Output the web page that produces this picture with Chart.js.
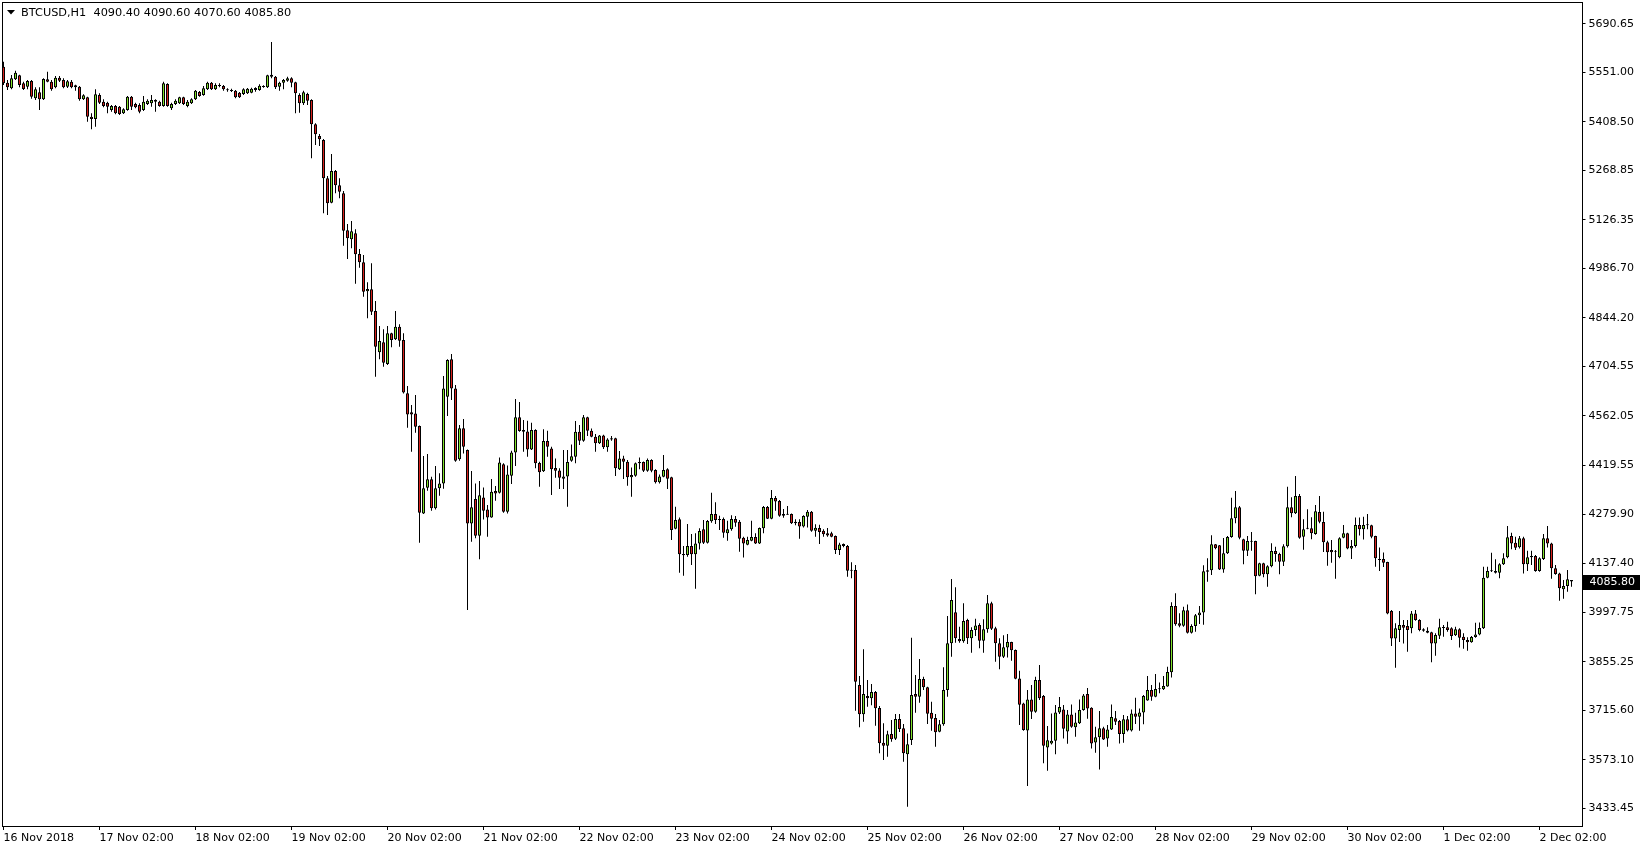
<!DOCTYPE html>
<html>
<head>
<meta charset="utf-8">
<title>BTCUSD,H1</title>
<script src="https://cdn.jsdelivr.net/npm/chart.js@4.4.0/dist/chart.umd.min.js"></script>
<style>
  html, body { margin: 0; padding: 0; background: #fff; }
  #wrap { width: 1642px; height: 850px; }
</style>
</head>
<body>
<div id="wrap"><canvas id="chart" width="1642" height="850"></canvas></div>
<script>
// BTCUSD H1 bars, 16 Nov 2018 02:00 .. 2 Dec 2018 10:00
const symbol = 'BTCUSD,H1';

const open = [
  5567.0, 5521.0, 5504.7, 5530.6, 5542.1, 5519.0, 5509.5, 5525.8, 5475.9, 5493.2,
  5473.0, 5530.6, 5523.8, 5507.5, 5535.4, 5528.6, 5509.5, 5523.8, 5507.5, 5509.5,
  5473.0, 5478.8, 5423.2, 5416.5, 5485.5, 5466.3, 5463.4, 5442.3, 5453.8, 5451.9,
  5432.7, 5442.3, 5480.7, 5459.6, 5456.7, 5442.3, 5459.6, 5461.5, 5471.1, 5466.3,
  5453.8, 5517.1, 5447.1, 5459.6, 5461.5, 5478.8, 5453.8, 5461.5, 5473.0, 5494.1,
  5485.5, 5501.8, 5521.0, 5501.8, 5513.3, 5511.4, 5501.8, 5499.9, 5498.0, 5492.2,
  5488.4, 5490.3, 5492.2, 5505.6, 5499.9, 5508.5, 5507.5, 5544.0, 5538.2, 5509.5,
  5521.0, 5526.7, 5533.4, 5521.9, 5485.5, 5461.5, 5488.4, 5471.1, 5401.1, 5367.5,
  5356.0, 5245.7, 5175.7, 5266.8, 5225.6, 5202.6, 5096.1, 5070.2, 5087.5, 5028.0,
  5004.1, 4920.6, 4926.4, 4864.0, 4745.1, 4773.9, 4711.6, 4799.8, 4782.5, 4819.0,
  4780.6, 4627.2, 4572.5, 4569.6, 4533.2, 4281.9, 4355.8, 4379.8, 4296.3, 4353.9,
  4368.2, 4617.6, 4725.0, 4641.5, 4437.3, 4526.5, 4464.1, 4253.1, 4323.1, 4217.6,
  4327.9, 4293.4, 4270.4, 4346.1, 4341.4, 4422.9, 4286.7, 4390.3, 4457.4, 4558.1,
  4521.7, 4517.8, 4466.0, 4521.7, 4426.7, 4402.8, 4490.0, 4468.9, 4412.3, 4405.6,
  4381.6, 4388.3, 4433.4, 4444.9, 4516.9, 4491.0, 4558.1, 4519.7, 4502.5, 4483.3,
  4506.3, 4471.8, 4497.7, 4497.7, 4408.5, 4440.1, 4430.5, 4385.5, 4390.3, 4425.8,
  4429.6, 4404.7, 4435.3, 4406.6, 4371.1, 4387.4, 4408.5, 4385.5, 4237.8, 4264.7,
  4165.0, 4162.1, 4188.0, 4164.0, 4195.6, 4235.9, 4197.5, 4258.9, 4280.0, 4265.6,
  4265.6, 4224.4, 4235.9, 4265.6, 4258.0, 4211.9, 4191.8, 4203.3, 4213.8, 4195.6,
  4238.8, 4300.1, 4266.6, 4326.0, 4317.4, 4280.0, 4280.0, 4280.0, 4258.0, 4257.0,
  4244.5, 4272.3, 4286.7, 4232.0, 4239.7, 4232.0, 4224.4, 4224.4, 4216.7, 4176.4,
  4193.7, 4188.0, 4118.9, 4118.9, 3788.1, 3703.7, 3756.4, 3749.7, 3767.9, 3721.9,
  3622.2, 3613.6, 3647.1, 3633.7, 3690.3, 3663.4, 3588.6, 3629.9, 3762.2, 3754.5,
  3805.4, 3781.4, 3708.5, 3693.2, 3653.8, 3674.9, 3773.7, 3908.0, 3997.2, 3920.4,
  3913.7, 3975.1, 3922.4, 3946.3, 3960.7, 3915.6, 3948.2, 4023.1, 3951.1, 3908.0,
  3869.6, 3896.4, 3911.8, 3888.7, 3807.2, 3735.3, 3657.6, 3746.8, 3711.3, 3802.4,
  3756.4, 3608.7, 3620.2, 3627.9, 3709.4, 3718.0, 3654.7, 3703.6, 3666.3, 3677.8,
  3716.1, 3762.2, 3722.8, 3623.1, 3637.5, 3663.4, 3634.6, 3660.5, 3692.2, 3684.5,
  3647.1, 3689.3, 3657.6, 3706.5, 3696.9, 3709.4, 3743.9, 3773.7, 3754.5, 3775.6,
  3775.6, 3784.2, 3824.5, 4015.3, 3965.5, 3958.8, 4002.9, 3938.6, 3957.8, 3988.5,
  3997.1, 4118.0, 4118.0, 4192.8, 4189.9, 4120.8, 4166.9, 4213.9, 4267.6, 4299.2,
  4207.2, 4174.6, 4202.4, 4202.4, 4102.6, 4138.1, 4106.5, 4129.5, 4173.6, 4165.0,
  4142.9, 4187.0, 4299.2, 4282.0, 4331.8, 4214.9, 4237.8, 4238.8, 4222.5, 4285.8,
  4257.0, 4198.5, 4176.5, 4174.5, 4155.4, 4211.9, 4224.4, 4181.2, 4188.0, 4248.4,
  4235.9, 4249.3, 4247.4, 4216.7, 4150.6, 4150.6, 4141.9, 4001.0, 3922.3, 3946.3,
  3960.7, 3957.8, 3951.1, 3994.2, 3975.1, 3948.2, 3944.4, 3939.6, 3907.9, 3930.0,
  3954.0, 3954.0, 3951.1, 3931.0, 3948.2, 3927.1, 3917.5, 3910.8, 3926.1, 3933.8,
  3951.1, 4096.9, 4115.1, 4116.0, 4111.2, 4135.2, 4155.4, 4216.7, 4197.6, 4184.1,
  4210.0, 4135.2, 4155.4, 4159.2, 4116.0, 4150.6, 4210.0, 4195.6, 4123.7, 4109.3,
  4063.3, 4072.9, 4090.4
];

const high = [
  5581.4, 5528.6, 5543.0, 5555.5, 5544.0, 5523.8, 5528.6, 5528.6, 5507.5, 5507.5,
  5533.4, 5552.6, 5528.6, 5540.1, 5540.1, 5533.4, 5528.6, 5528.6, 5515.2, 5511.4,
  5487.4, 5480.7, 5432.7, 5501.8, 5490.3, 5473.0, 5466.3, 5456.7, 5456.7, 5453.8,
  5447.1, 5482.6, 5482.6, 5463.4, 5461.5, 5482.6, 5473.0, 5485.5, 5473.0, 5469.2,
  5523.8, 5519.0, 5463.4, 5473.0, 5480.7, 5480.7, 5471.1, 5475.9, 5499.9, 5497.0,
  5511.4, 5523.8, 5522.9, 5519.0, 5519.0, 5514.3, 5504.7, 5503.7, 5499.9, 5494.1,
  5504.7, 5505.6, 5506.6, 5507.5, 5516.2, 5513.3, 5544.0, 5638.0, 5540.1, 5523.8,
  5531.5, 5538.2, 5536.3, 5523.8, 5490.3, 5497.9, 5492.2, 5473.0, 5404.0, 5373.3,
  5358.9, 5252.4, 5315.7, 5269.7, 5245.7, 5209.3, 5114.4, 5123.0, 5099.0, 5042.4,
  5025.2, 4946.5, 5001.2, 4892.8, 4820.9, 4811.3, 4820.9, 4801.7, 4864.0, 4825.7,
  4799.8, 4648.3, 4593.6, 4622.4, 4535.0, 4446.9, 4452.6, 4387.4, 4418.1, 4397.0,
  4677.0, 4725.0, 4740.3, 4651.1, 4536.1, 4553.3, 4466.0, 4403.7, 4368.2, 4374.9,
  4356.7, 4305.9, 4380.7, 4360.5, 4443.0, 4425.8, 4420.0, 4462.2, 4610.8, 4602.2,
  4550.4, 4548.5, 4542.7, 4523.6, 4430.5, 4523.6, 4519.7, 4473.7, 4440.1, 4411.4,
  4464.1, 4464.1, 4480.4, 4547.5, 4536.0, 4564.8, 4560.0, 4526.4, 4510.1, 4507.3,
  4508.2, 4497.7, 4504.4, 4499.6, 4461.2, 4447.8, 4435.3, 4414.2, 4428.6, 4443.0,
  4431.5, 4440.1, 4437.3, 4408.5, 4394.1, 4449.7, 4411.4, 4387.4, 4301.1, 4270.4,
  4188.0, 4251.2, 4222.5, 4224.4, 4238.8, 4262.7, 4262.7, 4341.4, 4313.6, 4275.2,
  4270.4, 4260.8, 4276.2, 4274.3, 4262.7, 4214.8, 4214.8, 4260.8, 4224.4, 4241.6,
  4303.0, 4303.0, 4349.0, 4331.8, 4320.3, 4294.4, 4303.0, 4281.9, 4264.7, 4264.7,
  4276.2, 4291.5, 4288.6, 4250.3, 4249.3, 4235.9, 4239.7, 4229.2, 4218.6, 4197.5,
  4195.6, 4190.9, 4141.0, 4133.3, 3814.0, 3890.7, 3802.5, 3791.0, 3770.8, 3727.7,
  3677.8, 3656.7, 3687.4, 3704.7, 3704.7, 3675.9, 3649.0, 3924.3, 3816.9, 3862.9,
  3812.1, 3783.3, 3740.1, 3704.7, 3687.4, 3838.9, 3986.6, 4093.0, 4069.1, 3955.9,
  4023.1, 3978.9, 3954.0, 3978.9, 3965.5, 3977.0, 4047.0, 4027.9, 3955.9, 3922.4,
  3931.0, 3934.8, 3912.7, 3890.6, 3829.3, 3737.2, 3773.7, 3788.0, 3812.0, 3845.6,
  3759.3, 3670.1, 3706.5, 3730.5, 3753.5, 3730.5, 3716.1, 3732.4, 3708.5, 3746.8,
  3762.2, 3779.4, 3723.8, 3668.2, 3713.2, 3668.2, 3673.0, 3732.4, 3713.2, 3687.4,
  3701.7, 3698.9, 3718.0, 3751.6, 3720.9, 3759.3, 3814.0, 3788.0, 3819.7, 3795.7,
  3814.0, 3840.8, 4025.9, 4051.8, 3994.3, 4013.4, 4020.1, 3962.6, 3992.3, 4015.4,
  4132.4, 4152.5, 4218.7, 4193.7, 4190.9, 4211.0, 4216.8, 4327.0, 4346.2, 4303.1,
  4209.1, 4216.8, 4228.3, 4203.3, 4140.0, 4140.0, 4132.4, 4195.7, 4186.1, 4168.8,
  4192.8, 4358.7, 4328.0, 4389.4, 4337.6, 4264.7, 4293.5, 4270.5, 4305.9, 4331.8,
  4286.8, 4203.3, 4205.2, 4176.5, 4212.9, 4248.4, 4226.3, 4205.2, 4270.4, 4270.4,
  4272.4, 4280.0, 4249.3, 4217.7, 4184.1, 4169.7, 4142.9, 4003.8, 3965.5, 4001.0,
  3975.1, 3975.1, 4001.0, 4003.8, 3977.0, 3951.1, 3954.0, 3941.5, 3936.7, 3978.9,
  3960.7, 3970.3, 3954.0, 3955.9, 3951.1, 3936.7, 3925.2, 3929.0, 3967.4, 3968.3,
  4128.5, 4128.5, 4168.8, 4149.6, 4138.1, 4166.9, 4245.5, 4226.3, 4214.8, 4216.7,
  4214.8, 4174.5, 4174.5, 4162.1, 4155.4, 4222.5, 4245.5, 4197.5, 4133.3, 4111.2,
  4090.1, 4118.9, 4090.6
];

const low = [
  5514.3, 5499.9, 5501.8, 5528.6, 5507.5, 5499.9, 5501.8, 5474.9, 5471.1, 5442.3,
  5471.1, 5521.9, 5498.0, 5504.7, 5522.9, 5504.7, 5505.6, 5504.7, 5498.0, 5469.2,
  5471.1, 5408.8, 5386.7, 5394.4, 5459.6, 5450.0, 5432.7, 5437.5, 5429.9, 5427.9,
  5430.8, 5440.4, 5442.3, 5447.1, 5432.7, 5439.4, 5456.7, 5451.9, 5437.5, 5451.9,
  5451.9, 5451.9, 5442.3, 5456.7, 5459.6, 5456.7, 5450.0, 5459.6, 5471.1, 5480.7,
  5483.6, 5499.9, 5499.9, 5499.9, 5507.5, 5498.0, 5495.1, 5494.1, 5475.9, 5476.9,
  5485.5, 5488.4, 5490.3, 5495.1, 5498.0, 5506.6, 5505.6, 5533.4, 5502.7, 5498.0,
  5502.0, 5523.8, 5507.5, 5432.7, 5434.6, 5456.7, 5456.7, 5303.3, 5341.6, 5338.8,
  5145.0, 5140.2, 5173.8, 5202.6, 5188.2, 5052.0, 5013.7, 5044.3, 4942.7, 4988.7,
  4905.3, 4843.0, 4852.5, 4675.1, 4725.0, 4703.9, 4708.7, 4759.5, 4780.6, 4761.4,
  4627.0, 4528.4, 4459.3, 4514.0, 4197.5, 4280.0, 4347.1, 4289.6, 4293.4, 4332.8,
  4352.9, 4562.0, 4608.0, 4430.6, 4433.4, 4454.5, 4003.8, 4200.4, 4210.0, 4149.6,
  4264.6, 4214.8, 4269.4, 4318.3, 4339.4, 4283.8, 4281.9, 4366.3, 4418.1, 4516.9,
  4459.3, 4444.9, 4464.1, 4411.4, 4358.6, 4400.8, 4444.9, 4334.6, 4384.5, 4351.9,
  4351.9, 4301.1, 4430.5, 4425.8, 4478.5, 4488.1, 4504.4, 4500.6, 4459.3, 4481.4,
  4467.0, 4459.3, 4491.0, 4389.3, 4406.6, 4380.7, 4361.5, 4329.9, 4387.4, 4408.5,
  4400.8, 4401.8, 4399.9, 4368.2, 4368.2, 4385.5, 4351.9, 4205.2, 4235.9, 4111.2,
  4102.6, 4157.3, 4133.3, 4065.2, 4178.3, 4193.7, 4195.6, 4255.1, 4251.2, 4234.0,
  4211.9, 4203.3, 4232.0, 4243.5, 4171.6, 4155.3, 4189.9, 4201.4, 4193.7, 4193.7,
  4224.4, 4265.6, 4264.7, 4289.6, 4272.3, 4269.4, 4278.1, 4251.2, 4247.4, 4209.0,
  4241.6, 4241.6, 4229.2, 4214.8, 4193.7, 4214.8, 4214.8, 4212.9, 4164.9, 4162.1,
  4184.1, 4099.8, 4095.0, 3714.3, 3666.3, 3682.6, 3725.8, 3729.6, 3671.1, 3591.5,
  3572.3, 3581.9, 3625.0, 3629.9, 3652.9, 3567.5, 3438.1, 3615.5, 3708.5, 3737.3,
  3773.7, 3675.9, 3656.7, 3610.7, 3651.9, 3671.1, 3754.5, 3869.6, 3909.9, 3909.9,
  3909.9, 3906.1, 3881.1, 3929.1, 3893.6, 3881.1, 3938.7, 3946.3, 3855.2, 3833.2,
  3865.8, 3867.6, 3858.1, 3804.4, 3673.0, 3656.7, 3497.5, 3690.2, 3708.5, 3744.9,
  3562.7, 3541.6, 3617.3, 3588.6, 3704.6, 3634.6, 3619.2, 3665.3, 3639.4, 3675.8,
  3714.2, 3691.2, 3605.8, 3593.4, 3545.4, 3629.8, 3610.6, 3658.6, 3673.0, 3620.2,
  3622.1, 3654.7, 3654.7, 3675.8, 3656.7, 3674.9, 3743.0, 3743.0, 3752.6, 3764.1,
  3773.7, 3783.3, 3810.1, 3958.8, 3954.0, 3955.9, 3936.6, 3936.6, 3941.5, 3963.6,
  3961.7, 4085.4, 4104.5, 4178.4, 4118.9, 4111.3, 4165.0, 4212.0, 4253.2, 4207.2,
  4135.2, 4159.2, 4174.6, 4048.9, 4100.7, 4097.8, 4071.0, 4126.6, 4142.9, 4106.5,
  4130.4, 4184.1, 4270.5, 4280.0, 4209.1, 4177.4, 4235.9, 4207.2, 4220.6, 4253.2,
  4170.7, 4131.4, 4140.0, 4094.0, 4152.5, 4210.0, 4178.4, 4150.6, 4184.1, 4218.6,
  4207.1, 4235.9, 4210.0, 4128.5, 4116.0, 4127.5, 3991.4, 3900.3, 3837.9, 3911.8,
  3907.9, 3884.0, 3936.7, 3973.1, 3942.5, 3941.5, 3936.7, 3853.3, 3872.5, 3920.4,
  3927.1, 3941.5, 3917.5, 3929.0, 3896.4, 3892.6, 3886.8, 3909.8, 3924.2, 3931.0,
  3949.2, 4095.0, 4113.2, 4109.3, 4095.0, 4133.3, 4152.5, 4178.4, 4176.5, 4181.2,
  4109.3, 4116.0, 4133.3, 4114.1, 4114.1, 4147.7, 4184.1, 4094.0, 4105.5, 4030.7,
  4036.4, 4056.6, 4070.6
];

const close = [
  5519.0, 5507.5, 5533.4, 5549.7, 5514.3, 5502.7, 5525.8, 5480.7, 5501.8, 5473.0,
  5531.5, 5523.8, 5501.8, 5535.4, 5526.7, 5507.5, 5524.8, 5507.5, 5513.3, 5473.0,
  5484.5, 5423.2, 5416.5, 5487.4, 5463.4, 5453.8, 5451.9, 5453.8, 5432.7, 5430.8,
  5444.2, 5480.7, 5451.9, 5450.0, 5437.5, 5466.3, 5469.2, 5471.1, 5466.3, 5453.8,
  5519.0, 5453.8, 5459.6, 5469.2, 5478.8, 5459.6, 5466.3, 5473.0, 5498.0, 5482.6,
  5504.7, 5521.0, 5501.8, 5514.3, 5511.4, 5501.8, 5498.9, 5497.0, 5478.8, 5478.8,
  5501.8, 5503.7, 5503.7, 5499.9, 5512.3, 5511.4, 5542.1, 5538.2, 5507.5, 5521.0,
  5528.6, 5533.4, 5521.0, 5490.3, 5461.5, 5493.1, 5469.2, 5401.1, 5372.3, 5357.9,
  5245.7, 5173.8, 5266.8, 5225.6, 5207.4, 5095.2, 5073.1, 5093.2, 5027.1, 5004.1,
  4919.7, 4927.3, 4862.1, 4761.4, 4777.7, 4715.4, 4799.8, 4780.6, 4819.0, 4778.7,
  4630.0, 4566.7, 4566.7, 4531.3, 4283.8, 4353.9, 4379.8, 4296.3, 4353.9, 4368.2,
  4641.5, 4723.1, 4641.5, 4433.4, 4526.5, 4473.7, 4253.1, 4299.2, 4217.6, 4333.7,
  4289.6, 4270.4, 4344.2, 4339.4, 4428.6, 4286.7, 4394.1, 4457.4, 4558.1, 4518.8,
  4516.9, 4466.0, 4521.7, 4425.8, 4399.9, 4490.0, 4473.7, 4408.5, 4404.7, 4384.5,
  4388.3, 4429.6, 4445.9, 4516.9, 4491.0, 4558.1, 4519.7, 4502.5, 4483.3, 4506.3,
  4471.8, 4494.8, 4494.8, 4411.4, 4440.1, 4430.5, 4385.5, 4392.2, 4425.8, 4429.6,
  4404.7, 4435.3, 4404.7, 4371.1, 4388.3, 4406.6, 4381.6, 4234.0, 4262.7, 4164.0,
  4161.1, 4188.0, 4164.0, 4195.6, 4231.1, 4197.5, 4259.9, 4280.0, 4262.7, 4262.7,
  4226.3, 4235.9, 4265.6, 4255.1, 4209.0, 4195.6, 4205.2, 4213.8, 4195.6, 4239.7,
  4300.1, 4266.6, 4326.0, 4316.4, 4275.2, 4275.2, 4278.1, 4253.2, 4253.2, 4244.5,
  4274.3, 4286.7, 4232.0, 4240.7, 4228.2, 4221.5, 4218.6, 4214.8, 4176.4, 4192.7,
  4188.0, 4117.0, 4117.0, 3797.7, 3703.7, 3762.2, 3749.7, 3767.9, 3721.0, 3620.3,
  3613.6, 3646.2, 3631.8, 3690.3, 3661.5, 3591.5, 3617.4, 3759.3, 3754.5, 3805.4,
  3781.4, 3705.6, 3691.2, 3651.9, 3674.9, 3773.7, 3908.0, 4032.6, 3922.4, 3913.7,
  3972.2, 3922.4, 3946.3, 3959.7, 3915.6, 3948.2, 4023.1, 3950.2, 3908.0, 3869.6,
  3896.5, 3911.8, 3887.8, 3806.3, 3731.5, 3658.6, 3746.8, 3711.3, 3802.4, 3749.7,
  3613.5, 3628.9, 3627.9, 3709.4, 3724.8, 3662.4, 3703.6, 3668.2, 3680.6, 3716.1,
  3758.3, 3720.9, 3620.2, 3637.5, 3663.4, 3631.7, 3660.5, 3696.0, 3682.5, 3647.1,
  3689.3, 3657.6, 3706.5, 3696.9, 3709.4, 3756.4, 3773.7, 3754.5, 3776.6, 3777.5,
  3785.2, 3825.4, 4015.3, 3962.6, 3958.8, 4002.9, 3938.6, 3957.8, 3988.5, 3997.1,
  4115.1, 4114.1, 4192.8, 4181.3, 4120.8, 4166.9, 4213.9, 4267.6, 4299.2, 4212.0,
  4174.6, 4202.4, 4200.4, 4100.7, 4138.1, 4106.5, 4129.5, 4173.6, 4165.0, 4142.9,
  4187.0, 4299.2, 4282.0, 4331.8, 4212.0, 4235.9, 4239.8, 4224.4, 4287.7, 4258.0,
  4198.5, 4169.8, 4169.8, 4171.7, 4210.0, 4224.4, 4181.2, 4188.0, 4248.4, 4235.9,
  4248.4, 4247.4, 4214.8, 4152.5, 4147.7, 4140.0, 3994.2, 3922.3, 3951.1, 3960.7,
  3953.0, 3946.3, 3994.2, 3975.1, 3946.3, 3944.4, 3938.6, 3907.9, 3931.9, 3954.0,
  3952.0, 3946.3, 3929.0, 3948.2, 3924.2, 3917.5, 3910.8, 3926.1, 3933.8, 3952.0,
  4096.9, 4116.0, 4117.0, 4111.2, 4135.2, 4152.5, 4212.9, 4195.6, 4183.2, 4210.0,
  4135.2, 4155.4, 4159.2, 4116.0, 4152.5, 4210.0, 4195.6, 4123.7, 4107.4, 4066.2,
  4072.9, 4092.1, 4085.8
];

// one label per day, on the 02:00 bar
const dayLabels = [
  '16 Nov 2018', '17 Nov 02:00', '18 Nov 02:00', '19 Nov 02:00', '20 Nov 02:00',
  '21 Nov 02:00', '22 Nov 02:00', '23 Nov 02:00', '24 Nov 02:00', '25 Nov 02:00',
  '26 Nov 02:00', '27 Nov 02:00', '28 Nov 02:00', '29 Nov 02:00', '30 Nov 02:00',
  '1 Dec 02:00', '2 Dec 02:00'
];

const priceTicks = [
  5690.65, 5551.00, 5408.50, 5268.85, 5126.35, 4986.70, 4844.20, 4704.55, 4562.05,
  4419.55, 4279.90, 4137.40, 3997.75, 3855.25, 3715.60, 3573.10, 3433.45
];

const bullColor = '#80e22a';
const bearColor = '#d6201c';
const font = { family: 'DejaVu Sans', size: 11 };

const n = open.length;
const slots = Array.from({ length: n + 2 }, (_, i) => i); // two empty slots on the right
const bodies = open.map((o, i) => [o, close[i]]);
const wicks = low.map((l, i) => [l, high[i]]);
const bodyColors = open.map((o, i) => close[i] >= o ? bullColor : bearColor);

// frame, header line and last price marker
const terminalPlugin = {
  id: 'terminal',
  afterDraw(chart) {
    const { ctx, chartArea } = chart;
    const yScale = chart.scales.y;
    ctx.save();

    ctx.strokeStyle = '#000';
    ctx.lineWidth = 1;
    const x0 = Math.round(chartArea.left) + 0.5;
    const y0 = Math.round(chartArea.top) - 0.5;
    const x1 = Math.round(chartArea.right) + 0.5;
    const y1 = Math.round(chartArea.bottom) + 0.5;
    ctx.strokeRect(x0, y0, x1 - x0, y1 - y0);

    // header
    ctx.fillStyle = '#000';
    ctx.beginPath();
    ctx.moveTo(7, 10);
    ctx.lineTo(15, 10);
    ctx.lineTo(11, 14.5);
    ctx.closePath();
    ctx.fill();
    const last = n - 1;
    const quote = [open[last], high[last], low[last], close[last]].map(v => v.toFixed(2)).join(' ');
    ctx.font = '11.3px "DejaVu Sans"';
    ctx.textBaseline = 'middle';
    ctx.textAlign = 'left';
    ctx.fillText(symbol + '  ' + quote, 21, 13);

    // last price box on the price scale
    ctx.font = '11px "DejaVu Sans"';
    const py = Math.round(yScale.getPixelForValue(close[last]));
    ctx.fillStyle = '#000';
    ctx.fillRect(x1 + 0.5, py - 7, 57, 15);
    ctx.fillStyle = '#fff';
    ctx.fillText(close[last].toFixed(2), x1 + 7, py + 0.5);
    ctx.restore();
  }
};

new Chart(document.getElementById('chart'), {
  type: 'bar',
  data: {
    labels: slots,
    datasets: [
      {
        label: 'body',
        data: bodies,
        backgroundColor: bodyColors,
        borderColor: '#000',
        borderWidth: 1,
        borderSkipped: false,
        barThickness: 3,
        minBarLength: 1,
        grouped: false,
        inflateAmount: 0,
        order: 0
      },
      {
        label: 'wick',
        data: wicks,
        backgroundColor: '#000',
        borderWidth: 0,
        barThickness: 1,
        grouped: false,
        inflateAmount: 0,
        order: 1
      }
    ]
  },
  options: {
    responsive: false,
    animation: false,
    devicePixelRatio: 1,
    layout: { padding: { left: 1.5, top: 3, right: 0, bottom: 0 } },
    plugins: {
      legend: { display: false },
      tooltip: { enabled: false }
    },
    scales: {
      x: {
        type: 'category',
        offset: true,
        border: { display: false },
        grid: { display: true, drawOnChartArea: false, drawTicks: true, tickLength: 4, color: '#000', offset: false },
        ticks: {
          autoSkip: false,
          maxRotation: 0,
          minRotation: 0,
          align: 'start',
          padding: 2,
          color: '#000',
          font: font,
          callback: (v, k) => dayLabels[k]
        },
        afterBuildTicks: s => { s.ticks = dayLabels.map((_, k) => ({ value: k * 24 })); },
        afterFit: s => {
          s.height = 24;
          s.paddingLeft = 0;
          s.paddingRight = 0;
        }
      },
      y: {
        position: 'right',
        min: 3382.53,
        max: 5750.2,
        border: { display: false },
        grid: { display: true, drawOnChartArea: false, drawTicks: true, tickLength: 4, color: '#000' },
        ticks: {
          padding: 3,
          color: '#000',
          font: font,
          callback: v => Number(v).toFixed(2)
        },
        afterBuildTicks: s => { s.ticks = priceTicks.map(v => ({ value: v })); },
        afterFit: s => {
          s.width = 60.5;
          s.paddingTop = 0;
          s.paddingBottom = 0;
        }
      }
    }
  },
  plugins: [terminalPlugin]
});
</script>
</body>
</html>
